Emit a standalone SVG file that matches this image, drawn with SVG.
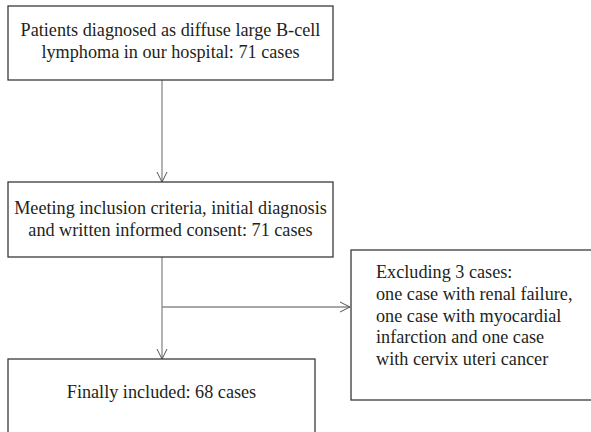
<svg xmlns="http://www.w3.org/2000/svg" width="591" height="432" viewBox="0 0 591 432">
<defs>
<style>
.box{fill:#fff;stroke:#3a3a3a;stroke-width:1.3}
.t{font-family:"Liberation Serif","Times New Roman",serif;font-size:18.2px;fill:#231f20}
.c{text-anchor:middle}
.ln{stroke:#8a8a8a;stroke-width:1.3;fill:none}
</style>
<marker id="ah" viewBox="0 0 12 12" refX="11" refY="6" markerWidth="12" markerHeight="12" markerUnits="userSpaceOnUse" orient="auto">
<path d="M1,1 L11,6 L1,11" fill="none" stroke="#555" stroke-width="1"/>
</marker>
</defs>
<rect width="591" height="432" fill="#fff"/>
<g id="connectors">
<line class="ln" x1="162" y1="80" x2="162" y2="182" marker-end="url(#ah)"/>
<line class="ln" x1="162" y1="257" x2="162" y2="359" marker-end="url(#ah)"/>
<line class="ln" x1="162" y1="307" x2="350" y2="307" marker-end="url(#ah)"/>
</g>
<g id="n1">
<rect class="box" x="8" y="6" width="325" height="74"/>
<text class="t c" x="170.5" y="36">Patients diagnosed as diffuse large B-cell</text>
<text class="t c" x="170.5" y="58">lymphoma in our hospital: 71 cases</text>
</g>
<g id="n2">
<rect class="box" x="8" y="182" width="325" height="75"/>
<text class="t c" x="170.5" y="214">Meeting inclusion criteria, initial diagnosis</text>
<text class="t c" x="170.5" y="236">and written informed consent: 71 cases</text>
</g>
<g id="n3">
<rect class="box" x="351" y="250" width="250" height="150"/>
<text class="t" x="376" y="278">Excluding 3 cases:</text>
<text class="t" x="376" y="300">one case with renal failure,</text>
<text class="t" x="376" y="322">one case with myocardial</text>
<text class="t" x="376" y="343">infarction and one case</text>
<text class="t" x="376" y="365">with cervix uteri cancer</text>
</g>
<g id="n4">
<rect class="box" x="8" y="359" width="307" height="90"/>
<text class="t c" x="161.5" y="398">Finally included: 68 cases</text>
</g>
</svg>
